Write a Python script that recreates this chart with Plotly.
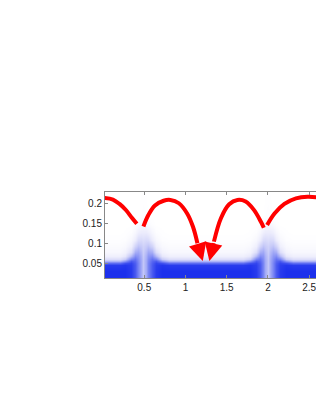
import plotly.graph_objects as go

# Density grid: x centres, y levels, intensity profiles
grid_x = [0.0, 0.2, 0.27, 0.34, 0.39, 0.43, 0.46, 0.49, 0.52, 0.55, 0.59, 0.64, 0.71, 0.8,
          1.7, 1.78, 1.85, 1.9, 1.94, 1.97, 2.0, 2.03, 2.06, 2.1, 2.15, 2.22, 2.3, 2.8]
grid_y = [0.0, 0.03, 0.045, 0.05, 0.056, 0.062, 0.07, 0.08, 0.095, 0.11, 0.13, 0.15, 0.17, 0.25]
far = [1, 1, 0.95, 0.72, 0.4, 0.2, 0.1, 0.05, 0.025, 0.01, 0, 0, 0, 0]
d22 = [1, 1, 0.97, 0.85, 0.55, 0.3, 0.15, 0.08, 0.04, 0.015, 0.005, 0, 0, 0]
d15 = [0.95, 0.95, 0.93, 0.9, 0.8, 0.6, 0.38, 0.2, 0.1, 0.05, 0.015, 0, 0, 0]
d10 = [0.8, 0.8, 0.8, 0.78, 0.74, 0.68, 0.56, 0.42, 0.25, 0.12, 0.05, 0.01, 0, 0]
d06 = [0.6, 0.6, 0.6, 0.6, 0.58, 0.56, 0.52, 0.45, 0.33, 0.21, 0.1, 0.03, 0, 0]
d03 = [0.44, 0.44, 0.44, 0.44, 0.44, 0.43, 0.41, 0.37, 0.3, 0.22, 0.12, 0.05, 0.01, 0]
ctr = [0.32, 0.32, 0.32, 0.32, 0.32, 0.32, 0.31, 0.29, 0.26, 0.2, 0.12, 0.06, 0.015, 0]
columns = [far, far, d22, d15, d10, d06, d03, ctr, d03, d06, d10, d15, d22, far,
           far, d22, d15, d10, d06, d03, ctr, d03, d06, d10, d15, d22, far, far]

# Red arcs
arc1_x = [0.02, 0.12, 0.2, 0.28, 0.35, 0.41]
arc1_y = [0.215, 0.211, 0.2, 0.184, 0.165, 0.15]
arc2_x = [0.49, 0.55, 0.63, 0.735, 0.817, 0.92, 1.02, 1.09, 1.145]
arc2_y = [0.143, 0.172, 0.196, 0.208, 0.21, 0.2017, 0.176, 0.143, 0.101]
arc3_x = [1.345, 1.43, 1.53, 1.63, 1.73, 1.83, 1.915, 1.95]
arc3_y = [0.105, 0.164, 0.199, 0.21, 0.206, 0.185, 0.155, 0.14]
arc4_x = [1.99, 2.08, 2.2, 2.34, 2.48, 2.6, 2.7]
arc4_y = [0.147, 0.176, 0.2, 0.214, 0.218, 0.216, 0.21]
tips_x = [1.21, 1.29]
tips_y = [0.056, 0.056]

x_ticks = [0.5, 1, 1.5, 2, 2.5]
x_labels = ["0.5", "1", "1.5", "2", "2.5"]
y_ticks = [0.05, 0.1, 0.15, 0.2]
y_labels = ["0.05", "0.1", "0.15", "0.2"]

z = [[col[i] for col in columns] for i in range(len(grid_y))]

fig = go.Figure()
fig.add_trace(go.Heatmap(
    x=grid_x, y=grid_y, z=z, zmin=0, zmax=1, zsmooth="best", showscale=False,
    colorscale=[[0, "rgb(255,255,255)"], [0.12, "rgb(236,236,252)"],
                [0.3, "rgb(200,203,248)"], [0.6, "rgb(120,132,244)"],
                [1, "rgb(28,48,236)"]],
    hoverinfo="skip"))

for ax_, ay_ in [(arc1_x, arc1_y), (arc2_x, arc2_y), (arc3_x, arc3_y), (arc4_x, arc4_y)]:
    fig.add_trace(go.Scatter(x=ax_, y=ay_, mode="lines",
                             line=dict(color="red", width=4, shape="spline"),
                             hoverinfo="skip", showlegend=False))

# Arrowheads: from the end of arc 2 / start of arc 3 to the tips
fig.add_annotation(x=tips_x[0], y=tips_y[0], ax=arc2_x[-1], ay=arc2_y[-1],
                   xref="x", yref="y", axref="x", ayref="y", text="",
                   showarrow=True, arrowhead=2, arrowwidth=4, arrowsize=0.9,
                   arrowcolor="red", standoff=0)
fig.add_annotation(x=tips_x[1], y=tips_y[1], ax=arc3_x[0], ay=arc3_y[0],
                   xref="x", yref="y", axref="x", ayref="y", text="",
                   showarrow=True, arrowhead=2, arrowwidth=4, arrowsize=0.9,
                   arrowcolor="red", standoff=0)

axis_common = dict(showgrid=False, zeroline=False, ticks="inside", ticklen=3,
                   tickcolor="#888", showline=True, linecolor="#888", linewidth=1,
                   mirror="ticks", automargin=False,
                   tickfont=dict(family="Liberation Sans, Arial", size=10, color="#222"))
fig.update_layout(
    width=324, height=409,
    margin=dict(l=105, r=0, t=192, b=131, autoexpand=False),
    paper_bgcolor="white", plot_bgcolor="white", showlegend=False,
    xaxis=dict(range=[0.024, 2.68], tickvals=x_ticks, ticktext=x_labels, **axis_common),
    yaxis=dict(range=[0.0134, 0.230], tickvals=y_ticks, ticktext=y_labels, **axis_common),
)
fig.write_html(
    "out.html",
    config={"displayModeBar": False},
    post_script="document.documentElement.style.overflow='hidden';"
                "document.body.style.overflow='hidden';"
                "document.body.style.margin='0';")
